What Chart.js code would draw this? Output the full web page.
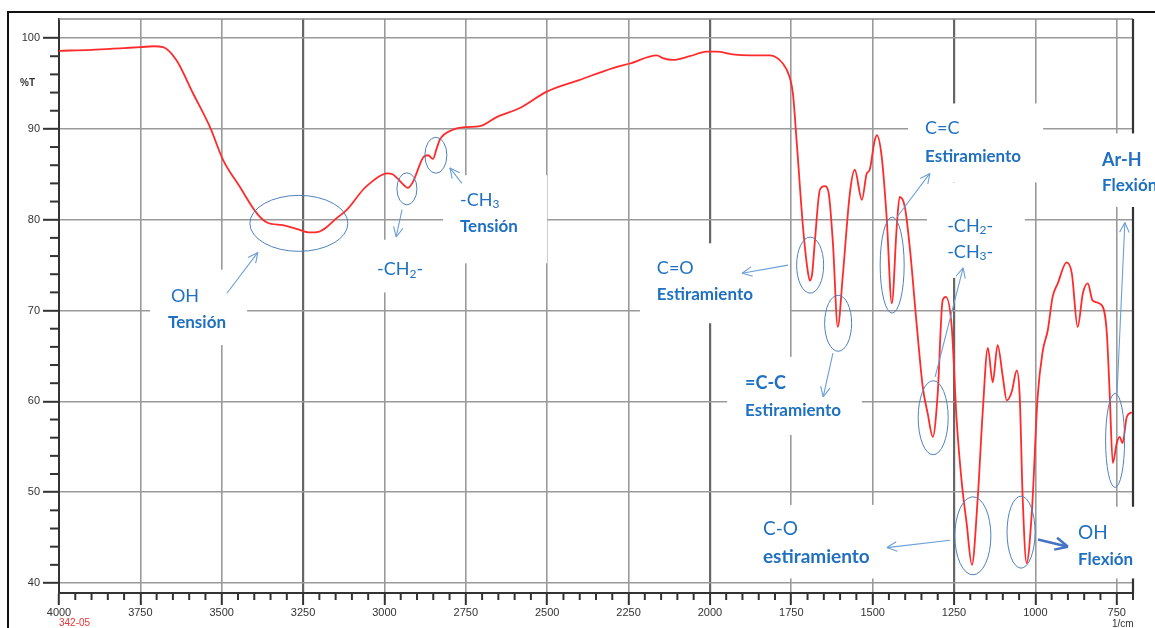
<!DOCTYPE html>
<html>
<head>
  <title>Espectro IR</title>
  <script src="https://cdn.jsdelivr.net/npm/chart.js"></script>
  <style>body { margin: 0; background: #fff; }</style>
</head>
<body>
  <div style="width: 1155px; height: 628px; position: relative;">
    <canvas id="irChart"></canvas>
  </div>

  <script>
    // Spectrum: wavenumber (1/cm) and %T
    const wavenumbers = [4000, 3900, 3800, 3750, 3710, 3680, 3640, 3588, 3536, 3496, 3444, 3392, 3361, 3312, 3270, 3229, 3200, 3177, 3146, 3115,
      3066, 3045, 3010, 2992, 2975, 2962, 2940, 2928, 2915, 2906, 2882, 2866, 2851, 2840, 2830, 2790, 2747, 2707, 2655, 2584,
      2501, 2400, 2298, 2246, 2163, 2145, 2114, 2062, 2010, 1979, 1930, 1877, 1816, 1776, 1755, 1745, 1733, 1714, 1700, 1693,
      1686, 1678, 1662, 1647, 1635, 1622, 1607, 1592, 1570, 1555, 1533, 1518, 1509, 1495, 1487, 1472, 1457, 1441, 1426, 1417,
      1401, 1386, 1364, 1346, 1331, 1315, 1300, 1285, 1275, 1257, 1242, 1226, 1211, 1195, 1177, 1162, 1146, 1131, 1116, 1100,
      1088, 1073, 1057, 1048, 1039, 1027, 1011, 993, 977, 962, 947, 931, 904, 888, 870, 854, 839, 824, 796, 781,
      772, 762, 750, 741, 732, 719, 704];
    const transmittance = [98.6, 98.7, 98.9, 99.0, 99.1, 99.0, 97.6, 93.9, 90.2, 86.6, 83.6, 80.7, 79.7, 79.4, 79.0, 78.6, 78.7, 79.2, 80.2, 81.1,
      83.3, 84.0, 84.9, 85.1, 85.0, 84.6, 83.8, 83.5, 84.0, 84.7, 86.8, 87.1, 86.7, 87.8, 88.8, 89.9, 90.2, 90.3, 91.3, 92.3,
      94.1, 95.4, 96.7, 97.2, 98.1, 97.8, 97.6, 98.0, 98.5, 98.5, 98.2, 98.1, 98.1, 97.2, 95.7, 93.9, 88.4, 79.2, 74.5, 73.3,
      74.0, 77.4, 83.3, 83.7, 82.9, 77.4, 68.2, 73.7, 82.9, 85.5, 82.2, 85.1, 85.5, 88.5, 89.3, 86.9, 80.3, 70.8, 79.2, 82.5,
      81.4, 77.0, 68.2, 61.6, 58.7, 56.1, 60.9, 71.1, 71.5, 68.2, 58.0, 51.0, 46.5, 42.0, 49.4, 58.7, 65.9, 62.1, 66.2, 62.7,
      60.1, 61.0, 63.4, 60.5, 49.4, 42.2, 47.7, 60.5, 65.6, 67.8, 71.5, 73.0, 75.3, 74.1, 68.2, 71.9, 73.0, 71.1, 70.6, 67.8,
      61.2, 53.2, 55.4, 56.1, 55.4, 58.3, 58.8];
    const xTicks = [4000, 3750, 3500, 3250, 3000, 2750, 2500, 2250, 2000, 1750, 1500, 1250, 1000, 750];
    const yTicks = [40, 50, 60, 70, 80, 90, 100];
    const darkLines = [3250, 2000, 1250];

    // hand-drawn band assignments (data coords; radii in px)
    const T = (x, y, font, ...parts) => ({ x, y, font, parts });
    const notes = [
      { box: [3720, 3422, 74.5, 66.2], ell: [3263, 79.6, 49, 28], arrow: [3484, 71.9, 3389, 76.4],
        text: [T(3656, 71.6, '18px Lato', ['OH']), T(3665, 68.7, 'bold 17px Lato', ['Tensión'])] },
      { box: [3075, 2829, 77.8, 72.0], ell: [2931, 83.4, 10, 16], arrow: [2946, 81.1, 2964, 78.1],
        text: [T(3023, 74.5, '18px Lato', ['-CH'], ['2', 1], ['-'])] },
      { box: [2820, 2500, 84.9, 75.2], ell: [2842, 87.1, 11, 18], arrow: [2762, 84.0, 2799, 85.7],
        text: [T(2768, 82.2, '18px Lato', ['-CH'], ['3', 1]), T(2768, 79.2, 'bold 17px Lato', ['Tensión'])] },
      { box: [2215, 1754, 77.4, 68.6], ell: [1692, 75.0, 13.5, 28], arrow: [1760, 75.0, 1901, 74.1],
        text: [T(2163, 74.7, '18px Lato', ['C=O']), T(2163, 71.8, 'bold 17px Lato', ['Estiramiento'])] },
      { box: [1947, 1533, 64.9, 56.3], ell: [1606, 68.6, 13.5, 28], arrow: [1622, 65.3, 1652, 60.5],
        text: [T(1892, 62.0, 'bold 18px Lato', ['=C-C']), T(1892, 59.0, 'bold 17px Lato', ['Estiramiento'])] },
      { box: [1391, 976, 92.8, 84.1], ell: [1440, 75.0, 12, 48], arrow: [1425, 80.3, 1324, 85.1],
        text: [T(1339, 90.1, '18px Lato', ['C=C']), T(1339, 87.0, 'bold 17px Lato', ['Estiramiento'])] },
      { box: [1333, 1032, 84.1, 73.6], ell: [1314, 58.2, 15, 37], arrow: [1308, 62.7, 1222, 74.7],
        text: [T(1271, 79.3, '18px Lato', ['-CH'], ['2', 1], ['-']), T(1271, 76.4, '18px Lato', ['-CH'], ['3', 1], ['-'])] },
      { box: [1892, 1400, 48.6, 40.5], ell: [1192, 45.2, 18, 39], arrow: [1262, 44.7, 1456, 43.9],
        text: [T(1837, 46.0, '19px Lato', ['C-O']), T(1837, 42.9, 'bold 19px Lato', ['estiramiento'])] },
      { box: [924, 663, 48.4, 40.5], ell: [1044, 45.6, 14, 36], arrow: [992, 44.8, 900, 44.0], thick: true,
        text: [T(869, 45.5, '19px Lato', ['OH']), T(869, 42.6, 'bold 17px Lato', ['Flexión'])] },
      { box: [832, 632, 89.5, 81.4], ell: [755, 55.7, 9.5, 47], arrow: [749, 60.9, 725, 79.7],
        text: [T(795, 86.6, 'bold 18px Lato', ['Ar-H']), T(795, 83.8, 'bold 17px Lato', ['Flexión'])] }
    ];

    function seg(ctx, x1, y1, x2, y2) {
      ctx.beginPath(); ctx.moveTo(x1, y1); ctx.lineTo(x2, y2); ctx.stroke();
    }

    const annotate = {
      id: 'annotate',
      beforeDatasetsDraw(chart) {
        const { ctx, chartArea: a, scales: { x, y } } = chart;
        ctx.save();
        // frame top and right
        ctx.strokeStyle = '#8a8a8a'; ctx.lineWidth = 1.6;
        seg(ctx, a.left, a.top, a.right, a.top);
        ctx.strokeStyle = '#333'; ctx.lineWidth = 2.2;
        seg(ctx, a.right, a.top, a.right, a.bottom);
        // minor ticks
        ctx.lineWidth = 2;
        for (let v = 3950; v >= 700; v -= 50) {
          if (v % 250 === 0) continue;
          const X = x.getPixelForValue(v);
          seg(ctx, X, a.bottom, X, a.bottom + 7);
        }
        for (let v = 42; v < 100; v += 2) {
          if (v % 10 === 0) continue;
          const Y = y.getPixelForValue(v);
          seg(ctx, a.left - 9, Y, a.left, Y);
        }
        // white patches under the hand-written labels
        ctx.fillStyle = '#fff';
        notes.forEach(n => {
          const [x1, x2, y1, y2] = n.box;
          const l = x.getPixelForValue(x1), r = x.getPixelForValue(x2);
          const t = y.getPixelForValue(y1), b = y.getPixelForValue(y2);
          ctx.fillRect(l, t, r - l, b - t);
        });
        ctx.restore();
      },
      afterDatasetsDraw(chart) {
        const { ctx, scales: { x, y } } = chart;
        ctx.save();
        notes.forEach(n => {
          // ellipse
          const [ex, ey, rx, ry] = n.ell;
          ctx.strokeStyle = '#4f81bd'; ctx.lineWidth = 1;
          ctx.beginPath();
          ctx.ellipse(x.getPixelForValue(ex), y.getPixelForValue(ey), rx, ry, 0, 0, Math.PI * 2);
          ctx.stroke();
          // arrow
          const [ax1, ay1, ax2, ay2] = n.arrow;
          const X1 = x.getPixelForValue(ax1), Y1 = y.getPixelForValue(ay1);
          const X2 = x.getPixelForValue(ax2), Y2 = y.getPixelForValue(ay2);
          ctx.strokeStyle = n.thick ? '#4472c4' : '#6a9fd8';
          ctx.lineWidth = n.thick ? 2.5 : 1.1;
          seg(ctx, X1, Y1, X2, Y2);
          const ang = Math.atan2(Y2 - Y1, X2 - X1), hl = n.thick ? 14 : 11;
          [0.45, -0.45].forEach(d => seg(ctx, X2, Y2, X2 - hl * Math.cos(ang + d), Y2 - hl * Math.sin(ang + d)));
          // labels
          ctx.fillStyle = '#1f70c1';
          ctx.textBaseline = 'middle';
          n.text.forEach(t => {
            let cx = x.getPixelForValue(t.x);
            const cy = y.getPixelForValue(t.y);
            const size = parseFloat(t.font.match(/(\d+)px/)[1]);
            t.parts.forEach(([s, sub]) => {
              ctx.font = sub ? t.font.replace(/\d+px/, Math.round(size * 0.65) + 'px') : t.font;
              ctx.fillText(s, cx, sub ? cy + size * 0.22 : cy);
              cx += ctx.measureText(s).width;
            });
          });
        });
        ctx.restore();
      },
      afterDraw(chart) {
        const { ctx, chartArea: a, scales: { x } } = chart;
        ctx.save();
        ctx.strokeStyle = '#111'; ctx.lineWidth = 2;
        seg(ctx, 7, 12, 1155, 12);
        seg(ctx, 8, 12, 8, 628);
        ctx.fillStyle = '#333';
        ctx.font = 'bold 10px "Liberation Sans"';
        ctx.textBaseline = 'middle';
        ctx.fillText('%T', 20, 83);
        ctx.font = '10px "Liberation Sans"';
        ctx.textAlign = 'center';
        ctx.fillText('1/cm', x.getPixelForValue(750) + 6, 624);
        ctx.fillStyle = '#e33';
        ctx.textAlign = 'left';
        ctx.fillText('342-05', a.left, 623);
        ctx.restore();
      }
    };

    function createChart() {
      const canvas = document.getElementById('irChart').getContext('2d');
      new Chart(canvas, {
        type: 'line',
        data: {
          datasets: [{
            label: '%T',
            data: wavenumbers.map((w, i) => ({ x: w, y: transmittance[i] })),
            borderColor: '#ff2b2b',
            borderWidth: 1.8,
            pointRadius: 0,
            cubicInterpolationMode: 'monotone',
            fill: false
          }]
        },
        options: {
          responsive: true,
          maintainAspectRatio: false,
          animation: false,
          layout: { padding: { left: 0, top: 19, right: 22, bottom: 0 } },
          plugins: { legend: { display: false }, tooltip: { enabled: false } },
          scales: {
            x: {
              type: 'linear',
              reverse: true,
              min: 700,
              max: 4000,
              afterBuildTicks: s => { s.ticks = xTicks.map(v => ({ value: v })); },
              afterFit: s => { s.height = 35; },
              ticks: { autoSkip: false, maxRotation: 0, padding: 1, color: '#333',
                font: { family: 'Liberation Sans', size: 11 }, callback: v => String(v) },
              grid: {
                color: c => darkLines.includes(c.tick && c.tick.value) ? '#666' : '#9a9a9a',
                lineWidth: c => darkLines.includes(c.tick && c.tick.value) ? 2.2 : 1.6,
                tickColor: '#333', tickWidth: 2, tickLength: 12
              },
              border: { color: '#333', width: 2 }
            },
            y: {
              min: 38.9,
              max: 102.1,
              afterBuildTicks: s => { s.ticks = yTicks.map(v => ({ value: v })); },
              afterFit: s => { s.width = 59; },
              ticks: { padding: 3, color: '#333', font: { family: 'Liberation Sans', size: 11 },
                callback: v => String(v) },
              grid: { color: '#9a9a9a', lineWidth: 1.6, tickColor: '#333', tickWidth: 2, tickLength: 16 },
              border: { color: '#333', width: 2 }
            }
          }
        },
        plugins: [annotate]
      });
    }

    window.onload = createChart;
  </script>
</body>
</html>
